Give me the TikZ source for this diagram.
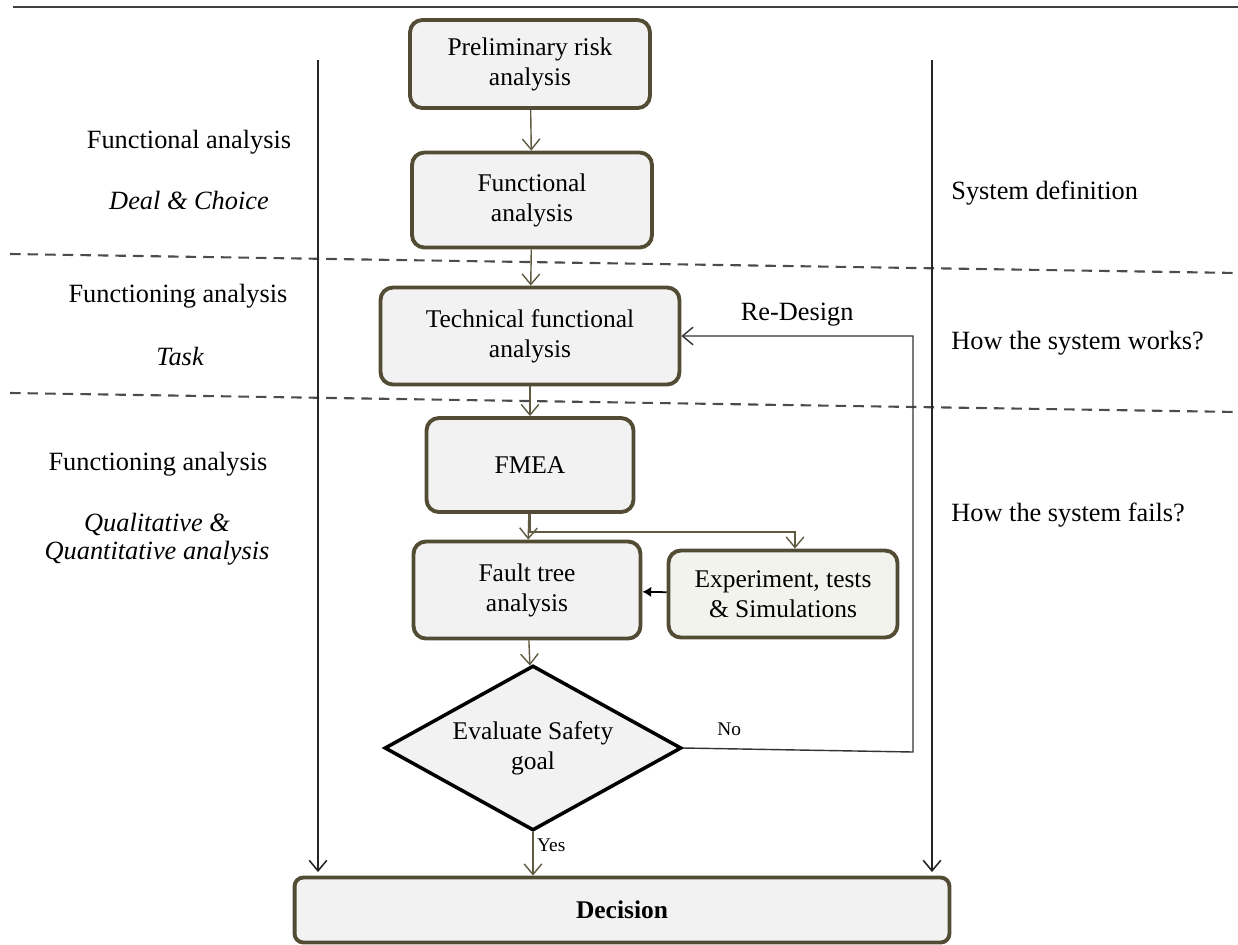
\documentclass[tikz,border=0pt]{standalone}
\usepackage{fontspec}
\setmainfont{Liberation Serif}
\usetikzlibrary{shapes.geometric, arrows.meta}
\usetikzlibrary{calc}
\definecolor{boxline}{RGB}{82,76,52}
\definecolor{boxfill}{RGB}{242,242,242}
\definecolor{expfill}{RGB}{243,243,238}
\definecolor{arrowline}{RGB}{96,90,66}
\tikzstyle{arrow} = [line width=0.8pt,-{Straight Barb[length=6pt,width=10pt]},color=arrowline]
\tikzstyle{sidearrow} = [line width=0.9pt,-{Straight Barb[length=6pt,width=10pt]},color=black!85]
\tikzstyle{stage} = [rectangle, rounded corners=7pt, draw=boxline, line width=2.2pt, fill=boxfill, text centered, align=center, font=\fontsize{14.5}{17}\selectfont]
\tikzstyle{choice} = [diamond, shape aspect=1.8, draw=black, line width=2pt, fill=boxfill, align=center, inner sep=0pt, font=\fontsize{14.5}{17}\selectfont]
\tikzstyle{note} = [align=center, inner sep=0pt, text=black, font=\fontsize{15}{16}\selectfont]
\tikzstyle{yesno} = [inner sep=2pt, text=black, font=\fontsize{11}{13}\selectfont]
\tikzstyle{divider} = [line width=1.2pt, color=black!70, dash pattern=on 6pt off 4pt]

\begin{document}
\begin{tikzpicture}[x=0.02cm, y=-0.02cm]
    \useasboundingbox (0,0) rectangle (1238,944);

    % rule and dividers
    \coordinate (rulel) at (13,7);
    \coordinate (ruler) at (1238,7);
    \draw [line width=1.3pt, color=black!75] (rulel) -- (ruler);
    \coordinate (div1l) at (10,254);
    \coordinate (div1r) at (1238,273);
    \coordinate (div2l) at (10,393);
    \coordinate (div2r) at (1238,412);
    \draw [divider] (div1l) -- (div1r);
    \draw [divider] (div2l) -- (div2r);

    % nodes
    \node (prelim) [stage, minimum width=4.8cm, minimum height=1.76cm] at (530,64) {Preliminary risk\\analysis};
    \node (func) [stage, minimum width=4.8cm, minimum height=1.9cm] at (532,200) {Functional\\analysis};
    \node (tech) [stage, minimum width=5.98cm, minimum height=1.94cm] at (530,336) {Technical functional\\analysis};
    \node (fmea) [stage, minimum width=4.14cm, minimum height=1.88cm] at (530,465) {FMEA};
    \node (fault) [stage, minimum width=4.54cm, minimum height=1.94cm] at (527,590) {Fault tree\\analysis};
    \node (exper) [stage, fill=expfill, minimum width=4.58cm, minimum height=1.74cm] at (783,594) {Experiment, tests\\\& Simulations};
    \node (evaluate) [choice, minimum width=5.94cm, minimum height=3.3cm] at (533,748) {Evaluate Safety\\goal};
    \node (decision) [stage, rounded corners=5pt, minimum width=13.1cm, minimum height=1.3cm] at (622,910) {\textbf{Decision}};

    % left side
    \node (funcnote) [note] at (189,142) {Functional analysis};
    \node (dealnote) [note, font=\fontsize{15}{16}\selectfont\itshape] at (189,200) {Deal \& Choice};
    \node (worknote) [note] at (178,296) {Functioning analysis};
    \node (tasknote) [note, font=\fontsize{15}{16}\selectfont\itshape] at (180,356) {Task};
    \node (failnote) [note] at (158,464) {Functioning analysis};
    \node (qualnote) [note, font=\fontsize{15}{16}\selectfont\itshape] at (157,539) {Qualitative \&\\Quantitative analysis};

    % right side
    \node (sysdef) [note, anchor=west] at (951,193) {System definition};
    \node (works) [note, anchor=west] at (951,343) {How the system works?};
    \node (fails) [note, anchor=west] at (951,515) {How the system fails?};

    % arrows
    \draw [arrow] (prelim) -- (func);
    \draw [arrow] (func) -- (tech);
    \draw [arrow] (tech) -- (fmea);
    \draw [arrow] (fmea) -- (fault);
    \draw [arrow] (fmea.south) -- ++(0,18) -| ([xshift=0.24cm]exper.north);
    \draw [-{Latex[length=5pt,width=6pt]}, line width=1pt] (exper) -- (fault);
    \draw [arrow] (fault) -- (evaluate);
    \draw [arrow] (evaluate.south) -- (evaluate.south |- decision.north) node [yesno, pos=0.3, right] {Yes};

    % re-design loop
    \coordinate (loopcorner) at (913,752);
    \draw [arrow, color=black!80] (evaluate.east) -- (loopcorner) node [yesno, pos=0.2, above=5pt] {No}
        |- (tech.east) node [note, pos=0.75, above=5pt] {Re-Design};

    % side arrows
    \coordinate (lefttop) at (318,60);
    \coordinate (righttop) at (932,60);
    \draw [sidearrow] (lefttop) -- ([yshift=2pt]lefttop |- decision.north);
    \draw [sidearrow] (righttop) -- ([yshift=2pt]righttop |- decision.north);
\end{tikzpicture}
\end{document}
